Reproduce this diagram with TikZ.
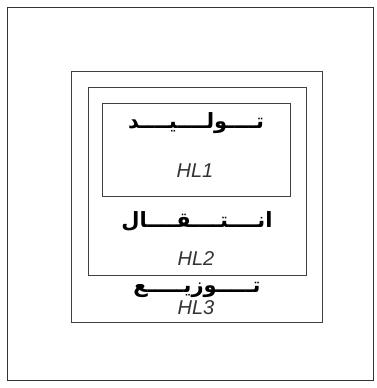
\documentclass[tikz,border=0pt]{standalone}
\usepackage{fontspec}
\setsansfont{Liberation Sans}
\newfontfamily\arabicfont[Script=Arabic]{DejaVu Sans}
\TeXXeTstate=1
\usepackage{tikz}
\usetikzlibrary{positioning}

\begin{document}
\begin{tikzpicture}[
    x=1pt, y=-1pt,
    frame/.style={draw=black!80, line width=1pt},
    layer/.style={draw=black!75, line width=0.8pt, inner sep=0pt},
    ar/.style={font=\arabicfont\bfseries\fontsize{21}{24}\selectfont, inner sep=0pt},
    hl/.style={font=\sffamily\itshape\fontsize{20}{23}\selectfont, text=black!80, inner sep=0pt}
]
\useasboundingbox (0,0) rectangle (377,388);
% outer frame
\draw[frame] (7,7) rectangle (373,380);
% nested layers
\node[layer, minimum width=251pt, minimum height=251pt] (L3) at (196.5,196.5) {};
\node[layer, minimum width=218pt, minimum height=188pt] (L2) at (197,181) {};
\node[layer, minimum width=188pt, minimum height=93pt] (L1) at (196,149.5) {};
% labels
\node[ar] (gen) at (196,123) {\beginR تــــولــــيــــد\endR};
\node[hl] (hl1) at (195,171) {HL1};
\node[ar] (trans) at (197,221) {\beginR انــــتــــقــــال\endR};
\node[hl] (hl2) at (196,259) {HL2};
\node[ar] (dist) at (197,290) {\beginR تـــــوزيـــــع\endR};
\node[hl] (hl3) at (196,308) {HL3};
\end{tikzpicture}
\end{document}
